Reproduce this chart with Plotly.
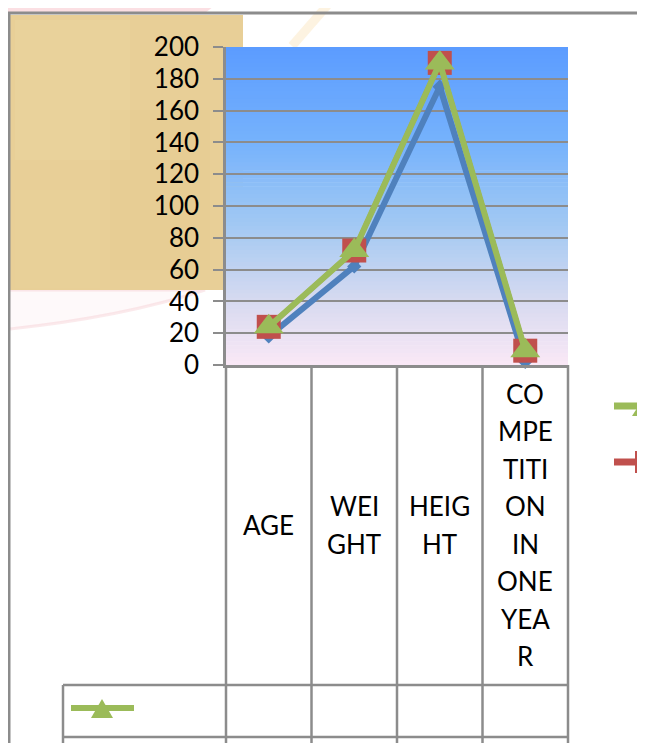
import plotly.graph_objects as go

# ---------------- data ----------------
categories = ["AGE", "WEIGHT", "HEIGHT", "COMPETITION IN ONE YEAR"]
category_lines = [["AGE"], ["WEI", "GHT"], ["HEIG", "HT"],
                  ["CO", "MPE", "TITI", "ON", "IN", "ONE", "YEA", "R"]]
series_blue = [18, 62, 175, 2]
series_red = [24, 72, 190, 9]
series_green = [24, 72, 190, 9]
y_tick_values = [0, 20, 40, 60, 80, 100, 120, 140, 160, 180, 200]

# ---------------- layout geometry (reference pixel coords) ----------------
PAGE_W, PAGE_H = 645, 743
OFF = 8                      # page body margin of the html page
W, H = PAGE_W - OFF, PAGE_H - OFF
L, T = 226, 47               # plot area left / top in page coords
PW, PH = 342, 318
GRID = "#8C8C8C"
FONT = "Lato"


def px(X):
    return (X - L) / PW


def py(Y):
    return (T + PH - Y) / PH


fig = go.Figure()

fig.add_trace(go.Scatter(
    x=categories, y=series_blue, mode="lines+markers", name="Series1",
    line=dict(color="#4F81BD", width=6),
    marker=dict(symbol="diamond", size=11, color="#4F81BD"),
    showlegend=False, cliponaxis=False))
fig.add_trace(go.Scatter(
    x=categories, y=series_red, mode="lines+markers", name="Series2",
    line=dict(color="#C0504D", width=5),
    marker=dict(symbol="square", size=24, color="#C0504D"),
    showlegend=False, cliponaxis=False))
fig.add_trace(go.Scatter(
    x=categories, y=series_green, mode="lines+markers", name="Series3",
    line=dict(color="#9BBB59", width=6),
    marker=dict(symbol="triangle-up", size=26, color="#9BBB59"),
    showlegend=False, cliponaxis=False))

shapes = []

# watermark-like background remnants
shapes.append(dict(type="path", xref="paper", yref="paper", layer="below",
                   path=f"M{px(0)},{py(0)} L{px(222)},{py(0)} L{px(205)},{py(13)} L{px(0)},{py(13)} Z",
                   fillcolor="rgba(248,196,204,0.55)", line=dict(width=0)))
shapes.append(dict(type="line", xref="paper", yref="paper", layer="below",
                   x0=px(332), y0=py(0), x1=px(292), y1=py(46),
                   line=dict(color="rgba(250,222,170,0.35)", width=9)))
shapes.append(dict(type="path", xref="paper", yref="paper", layer="below",
                   path=(f"M{px(0)},{py(290)} L{px(205)},{py(290)} "
                         f"Q{px(120)},{py(318)} {px(0)},{py(330)} Z"),
                   fillcolor="rgba(250,222,226,0.18)",
                   line=dict(color="rgba(240,170,180,0.25)", width=3)))

# papyrus block
shapes.append(dict(type="rect", xref="paper", yref="paper", layer="below",
                   x0=px(10), x1=px(243), y0=py(290), y1=py(15),
                   fillcolor="#E8CF97", line=dict(width=0)))
for (x0, x1, y0, y1, c) in [(15, 130, 20, 160, "rgba(242,226,180,0.15)"),
                            (110, 210, 110, 270, "rgba(222,192,128,0.10)"),
                            (15, 100, 190, 288, "rgba(238,218,165,0.12)")]:
    shapes.append(dict(type="rect", xref="paper", yref="paper", layer="below",
                       x0=px(x0), x1=px(x1), y0=py(y1), y1=py(y0),
                       fillcolor=c, line=dict(width=0)))

# gradient plot background (bands)
stops = [(0.0, (91, 156, 255)), (0.3, (118, 178, 252)), (0.55, (160, 200, 243)),
         (0.8, (215, 218, 240)), (1.0, (250, 232, 246))]


def grad(t):
    for (a, ca), (b, cb) in zip(stops[:-1], stops[1:]):
        if a <= t <= b:
            f = (t - a) / (b - a)
            return tuple(round(ca[i] + (cb[i] - ca[i]) * f) for i in range(3))
    return stops[-1][1]


N = 80
for i in range(N):
    t = (i + 0.5) / N
    c = grad(t)
    shapes.append(dict(type="rect", xref="x domain", yref="y domain", layer="below",
                       x0=0, x1=1, y0=1 - (i + 1) / N - 0.002, y1=1 - i / N,
                       fillcolor=f"rgb({c[0]},{c[1]},{c[2]})", line=dict(width=0)))

# outer frame
shapes.append(dict(type="line", xref="paper", yref="paper", x0=px(8), x1=px(PAGE_W + 5),
                   y0=py(13), y1=py(13), line=dict(color=GRID, width=3)))
shapes.append(dict(type="line", xref="paper", yref="paper", x0=px(9), x1=px(9),
                   y0=py(13), y1=py(PAGE_H + 5), line=dict(color=GRID, width=3)))

# data table grid
n = len(categories)
for i in range(n + 1):
    shapes.append(dict(type="line", xref="x domain", yref="paper",
                       x0=i / n, x1=i / n, y0=0, y1=py(PAGE_H + 5),
                       line=dict(color=GRID, width=2.5)))
for Yh in (685, 737):
    shapes.append(dict(type="line", xref="paper", yref="paper",
                       x0=px(63), x1=1, y0=py(Yh), y1=py(Yh),
                       line=dict(color=GRID, width=2.5)))
shapes.append(dict(type="line", xref="paper", yref="paper",
                   x0=px(63), x1=px(63), y0=py(685), y1=py(PAGE_H + 5),
                   line=dict(color=GRID, width=2.5)))

# legend key in table
shapes.append(dict(type="line", xref="paper", yref="paper",
                   x0=px(71), x1=px(134), y0=py(708), y1=py(708),
                   line=dict(color="#9BBB59", width=6)))
shapes.append(dict(type="path", xref="paper", yref="paper",
                   path=f"M{px(102)},{py(699)} L{px(113)},{py(718)} L{px(91)},{py(718)} Z",
                   fillcolor="#9BBB59", line=dict(width=0)))

# right legend keys (clipped at the page edge)
shapes.append(dict(type="line", xref="paper", yref="paper",
                   x0=px(614), x1=px(660), y0=py(406), y1=py(406),
                   line=dict(color="#9BBB59", width=7)))
shapes.append(dict(type="path", xref="paper", yref="paper",
                   path=f"M{px(646)},{py(394)} L{px(660)},{py(416)} L{px(632)},{py(416)} Z",
                   fillcolor="#9BBB59", line=dict(width=0)))
shapes.append(dict(type="line", xref="paper", yref="paper",
                   x0=px(614), x1=px(640), y0=py(462), y1=py(462),
                   line=dict(color="#C0504D", width=7)))
shapes.append(dict(type="rect", xref="paper", yref="paper",
                   x0=px(635), x1=px(659), y0=py(473), y1=py(451),
                   fillcolor="#C0504D", line=dict(width=0)))

# category labels in the table header row
annotations = []
LINE = 37.5
CENTER_Y = 525
for cat, lines in zip(categories, category_lines):
    k = len(lines)
    for j, s in enumerate(lines):
        Y = CENTER_Y + (j - (k - 1) / 2) * LINE
        annotations.append(dict(x=cat, xref="x", y=py(Y), yref="paper",
                                text=s, showarrow=False, xanchor="center",
                                yanchor="middle",
                                font=dict(family=FONT, size=26, color="black")))

ml, mt = L - OFF, T - OFF
fig.update_layout(
    width=W, height=H,
    margin=dict(l=ml, t=mt, r=W - ml - PW, b=H - mt - PH, autoexpand=False),
    paper_bgcolor="white",
    plot_bgcolor="rgba(0,0,0,0)",
    showlegend=False,
    shapes=shapes,
    annotations=annotations,
    xaxis=dict(type="category", range=[-0.5, 3.5], showticklabels=False,
               showgrid=False, zeroline=False, showline=True,
               linecolor=GRID, linewidth=2.5, ticks="", fixedrange=True),
    yaxis=dict(range=[0, 200], tickvals=y_tick_values, showgrid=True,
               gridcolor=GRID, gridwidth=2, zeroline=False,
               showline=True, linecolor=GRID, linewidth=2.5,
               ticks="outside", ticklen=10, tickwidth=2, tickcolor=GRID,
               ticklabelstandoff=9,
               tickfont=dict(family=FONT, size=26, color="black")),
)

fig.write_html("out.html")
